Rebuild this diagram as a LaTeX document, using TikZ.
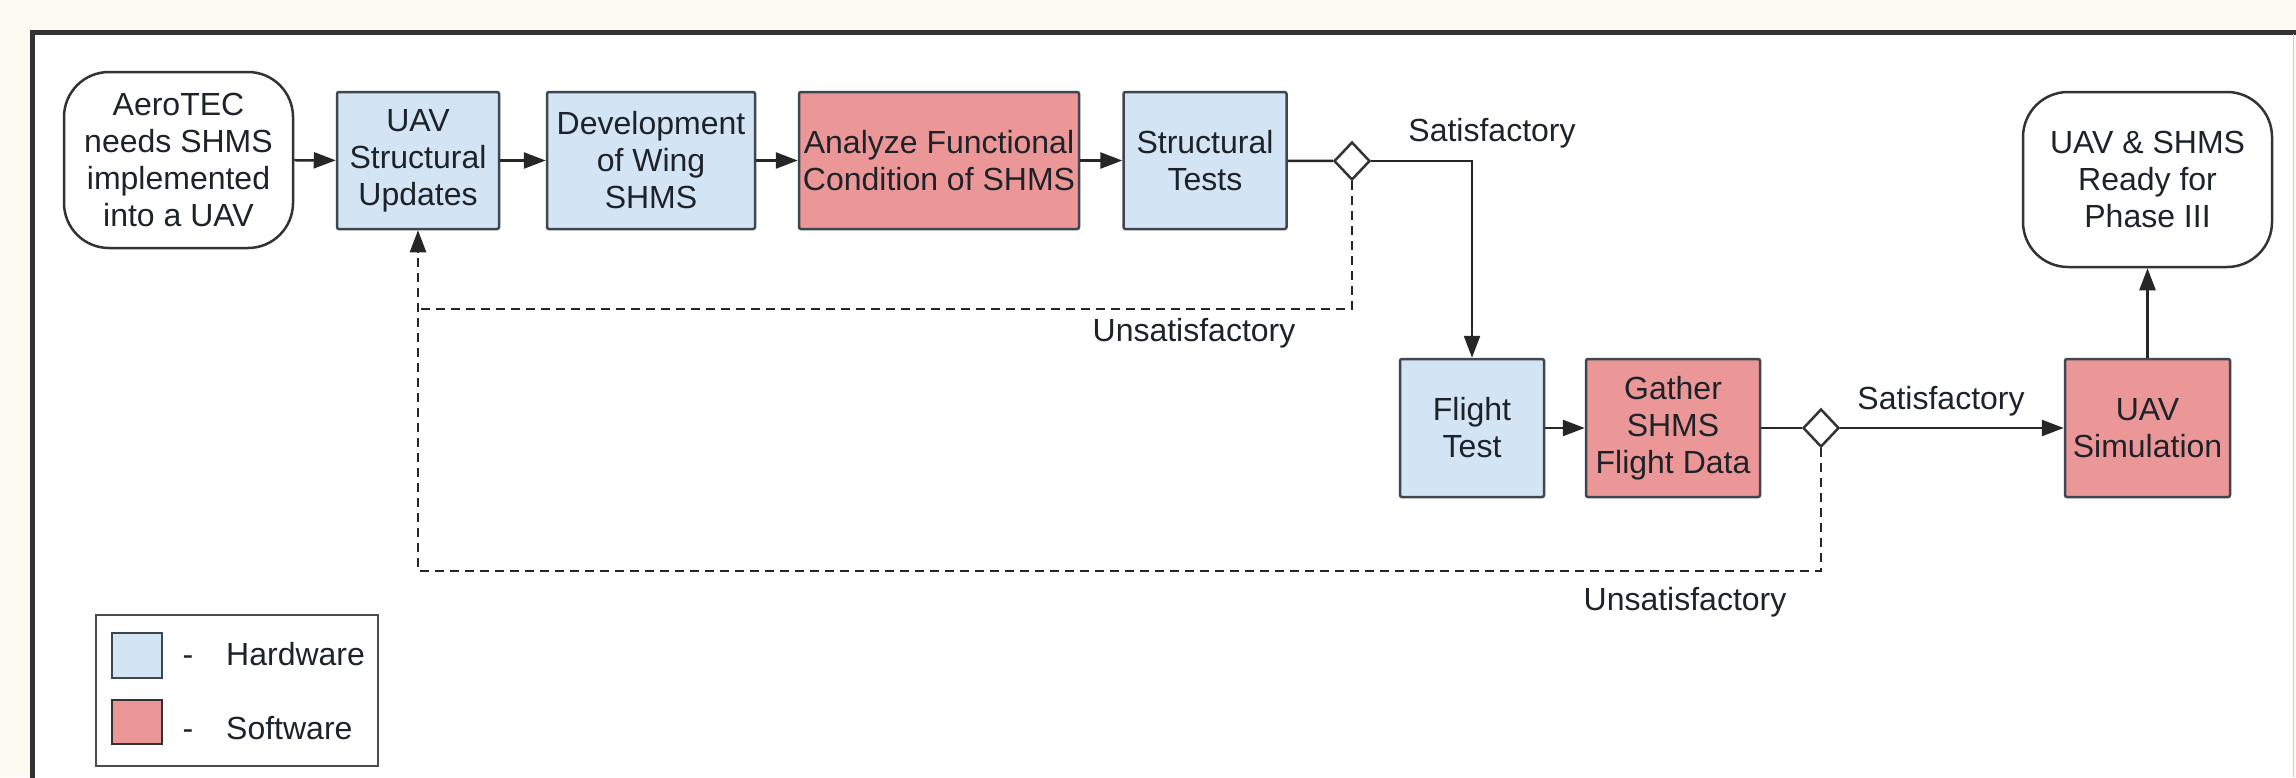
\documentclass[tikz,border=0pt]{standalone}
\usepackage{fontspec}
\setmainfont{Liberation Sans}
\usetikzlibrary{arrows.meta,shapes.geometric,calc}
\definecolor{hw}{HTML}{D3E4F4}
\definecolor{sw}{HTML}{EC9797}
\definecolor{edgec}{HTML}{3E4650}
\definecolor{cream}{HTML}{FDFAF2}
\definecolor{txt}{HTML}{1E232A}
\begin{document}
\begin{tikzpicture}[x=1pt,y=-1pt,
  every node/.style={font=\fontsize{32}{37}\selectfont, text=txt},
  box/.style={draw=edgec, line width=2.5pt, rounded corners=2pt, align=center, inner sep=0pt},
  hwbox/.style={box, fill=hw},
  swbox/.style={box, fill=sw},
  term/.style={draw=black!80, line width=2.5pt, rounded corners=45pt, align=center, inner sep=0pt, fill=white},
  dec/.style={shape=diamond, draw=black!80, line width=2.5pt, fill=white, inner sep=0pt, minimum width=36pt, minimum height=38pt},
  conn/.style={draw=black!85, line width=2.5pt},
  arr/.style={conn, -{Triangle[length=22pt,width=16pt]}},
  dsh/.style={dash pattern=on 9pt off 6pt},
  lbl/.style={inner sep=0pt}
]
\useasboundingbox (0,0) rectangle (2296,777);
\fill[cream] (0,0) rectangle (2296,777);
\fill[white] (32,32) rectangle (2293,790);
\draw[line width=5pt, draw=black!80] (32,795) -- (32,32) -- (2300,32);
\draw[black!20, line width=1pt] (2293,34) -- (2293,777);

% nodes
\node[term, minimum width=229pt, minimum height=176pt] (start) at (178.5,160) {AeroTEC\\needs SHMS\\implemented\\into a UAV};
\node[hwbox, minimum width=162pt, minimum height=137pt] (uav) at (418,160.5) {UAV\\Structural\\Updates};
\node[hwbox, minimum width=208pt, minimum height=137pt] (dev) at (651,160.5) {Development\\of Wing\\SHMS};
\node[swbox, minimum width=280pt, minimum height=137pt] (ana) at (939,160.5) {Analyze Functional\\Condition of SHMS};
\node[hwbox, minimum width=163pt, minimum height=137pt] (st) at (1205,160.5) {Structural\\Tests};
\node[dec] (d1) at (1352,161) {};
\node[hwbox, minimum width=144pt, minimum height=138pt] (ft) at (1472,428) {Flight\\Test};
\node[swbox, minimum width=174pt, minimum height=138pt] (ga) at (1673,428) {Gather\\SHMS\\Flight Data};
\node[dec] (d2) at (1821,428) {};
\node[swbox, minimum width=165pt, minimum height=138pt] (sim) at (2147.5,428) {UAV\\Simulation};
\node[term, minimum width=249pt, minimum height=175pt] (end) at (2147.5,179.5) {UAV \& SHMS\\Ready for\\Phase III};

% labels
\node[lbl] (s1) at (1492,133) {Satisfactory};
\node[lbl] (u1l) at (1194,333) {Unsatisfactory};
\node[lbl] (s2) at (1941,401) {Satisfactory};
\node[lbl] (u2l) at (1685,602) {Unsatisfactory};

% connectors
\draw[arr] (start) -- (uav);
\draw[arr] (uav) -- (dev);
\draw[arr] (dev) -- (ana);
\draw[arr] (ana) -- (st);
\draw[conn] (st) -- (d1);
\draw[arr] (d1.east) -| (ft.north);
\coordinate (c1) at (418,309);
\coordinate (c2) at (418,571);
\draw[conn, dsh] (d1.south) |- (c1);
\draw[arr, dsh] (d2.south) |- (c2) -- (uav.south);
\draw[arr] (ft) -- (ga);
\draw[conn] (ga) -- (d2);
\draw[arr] (d2) -- (sim);
\draw[arr] (sim) -- (end);

% legend
\node[draw=black!70, line width=2pt, minimum width=282pt, minimum height=151pt, inner sep=0pt] (leg) at (237,690.5) {};
\node[draw=edgec, line width=2.5pt, fill=hw, minimum width=50pt, minimum height=45pt, inner sep=0pt] (lhw) at (137,655.5) {};
\node[draw=black!80, line width=2.5pt, fill=sw, minimum width=50pt, minimum height=44pt, inner sep=0pt] (lsw) at (137,722) {};
\node[lbl, anchor=base] (dash1) at (188,665) {-};
\node[lbl, anchor=base] (dash2) at (188,739) {-};
\node[lbl, anchor=base west] (thw) at (226,665) {Hardware};
\node[lbl, anchor=base west] (tsw) at (226,739) {Software};
\end{tikzpicture}
\end{document}
